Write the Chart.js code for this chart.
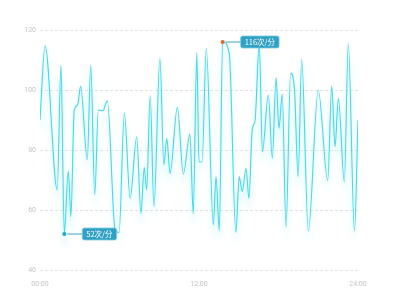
<!DOCTYPE html>
<html>
<head>
<meta charset="utf-8">
<script src="https://cdn.jsdelivr.net/npm/chart.js@4"></script>
<style>
  html, body { margin: 0; padding: 0; background: #fff; }
</style>
</head>
<body>
<canvas id="hrChart" width="400" height="300"></canvas>
<script>
// minutes since 00:00
const times = [0, 23, 78, 95, 110, 128, 140, 155, 170, 184, 214, 230, 248, 264, 285, 305,
  340, 358, 382, 408, 438, 457, 472, 483, 499, 516, 543, 561, 574, 589, 622, 649, 679, 694,
  710, 720, 734, 753, 785, 797, 812, 827, 857, 887, 902, 916, 933, 946, 961, 974, 993, 1007,
  1034, 1052, 1069, 1082, 1097, 1114, 1135, 1152, 1169, 1185, 1215, 1260, 1303, 1321, 1336,
  1351, 1378, 1396, 1424, 1440];
// heart rate, beats per minute
const heartRate = [90, 114.7, 66.7, 108.3, 52, 73, 57.8, 93.3, 95, 101.3, 76.7, 108.3, 65, 93.3, 93.1, 96.4,
  53.5, 52.5, 92.4, 63.9, 84.4, 58.9, 74.2, 66.7, 98.1, 61.1, 110.6, 75, 83.9, 72.2, 94.2, 72, 85.3, 58.7,
  112.4, 76, 76, 114, 55, 71.1, 53.1, 116, 112.2, 52.5, 71.1, 66.1, 73.9, 63.9, 86.7, 90, 115.6, 79.4,
  98.3, 77.2, 104.1, 87.2, 98.6, 54.2, 105.6, 100.6, 71.1, 110.2, 53, 100, 69.8, 101.3, 81.1,
  97.2, 69.4, 115.5, 53, 90];
const xTicks = [0, 720, 1440];
const unit = '次/分';

const points = times.map((t, i) => ({ x: t, y: heartRate[i] }));
const minIdx = heartRate.indexOf(Math.min(...heartRate));
const maxIdx = heartRate.indexOf(Math.max(...heartRate));

function fmtTime(m) {
  const h = Math.floor(m / 60);
  const mm = m % 60;
  return String(h).padStart(2, '0') + ':' + String(mm).padStart(2, '0');
}

// soft cyan glow under the line
const glowPlugin = {
  id: 'glow',
  beforeDatasetDraw(chart) {
    const ctx = chart.ctx;
    ctx.save();
    ctx.shadowColor = 'rgba(60, 215, 235, 0.3)';
    ctx.shadowBlur = 6;
    ctx.shadowOffsetY = 9;
  },
  afterDatasetDraw(chart) {
    chart.ctx.restore();
  }
};

// min / max tags
const tagPlugin = {
  id: 'tags',
  afterDatasetsDraw(chart) {
    const ctx = chart.ctx;
    const meta = chart.getDatasetMeta(0);
    [minIdx, maxIdx].forEach(i => {
      const p = meta.data[i];
      const text = Math.round(heartRate[i]) + unit;
      ctx.save();
      ctx.font = '7.5px "Noto Sans CJK SC", sans-serif';
      const w = ctx.measureText(text).width + 8;
      const h = 12;
      const bx = p.x + 18;
      const by = p.y - h / 2;
      ctx.strokeStyle = '#3fa6c6';
      ctx.lineWidth = 1;
      ctx.beginPath();
      ctx.moveTo(p.x + 3, p.y);
      ctx.lineTo(bx, p.y);
      ctx.stroke();
      ctx.fillStyle = '#30a0c3';
      ctx.strokeStyle = 'rgba(120, 200, 225, 0.8)';
      ctx.beginPath();
      ctx.roundRect(bx, by, w, h, 2);
      ctx.fill();
      ctx.stroke();
      ctx.fillStyle = '#fff';
      ctx.textAlign = 'center';
      ctx.textBaseline = 'middle';
      ctx.fillText(text, bx + w / 2, p.y + 0.5);
      ctx.restore();
    });
  }
};

const ctx = document.getElementById('hrChart').getContext('2d');
new Chart(ctx, {
  type: 'line',
  data: {
    datasets: [{
      data: points,
      borderColor: '#45dcee',
      borderWidth: 1.2,
      fill: false,
      cubicInterpolationMode: 'monotone',
      pointRadius: heartRate.map((v, i) => (i === minIdx || i === maxIdx) ? 2 : 0),
      pointBackgroundColor: heartRate.map((v, i) => i === maxIdx ? '#f2601c' : '#16a9c0'),
      pointBorderWidth: 0
    }]
  },
  options: {
    responsive: false,
    animation: false,
    devicePixelRatio: 1,
    layout: { padding: { left: 0, right: 42, top: 30, bottom: 0 } },
    plugins: { legend: { display: false }, tooltip: { enabled: false } },
    scales: {
      x: {
        type: 'linear',
        min: 0,
        max: 1440,
        afterFit(scale) { scale.height = 30; },
        afterBuildTicks(scale) { scale.ticks = xTicks.map(v => ({ value: v })); },
        grid: { display: false },
        border: { display: false },
        ticks: {
          color: '#c4c4c4',
          font: { size: 7, family: 'Roboto' },
          padding: 2,
          maxRotation: 0,
          callback: v => fmtTime(v)
        }
      },
      y: {
        min: 40,
        max: 120,
        afterFit(scale) { scale.width = 40; },
        grid: { color: '#e4e4e4', drawTicks: false },
        border: { display: false, dash: [3, 2] },
        ticks: {
          stepSize: 20,
          color: '#c4c4c4',
          font: { size: 7, family: 'Roboto' },
          padding: 4
        }
      }
    }
  },
  plugins: [glowPlugin, tagPlugin]
});
</script>
</body>
</html>
